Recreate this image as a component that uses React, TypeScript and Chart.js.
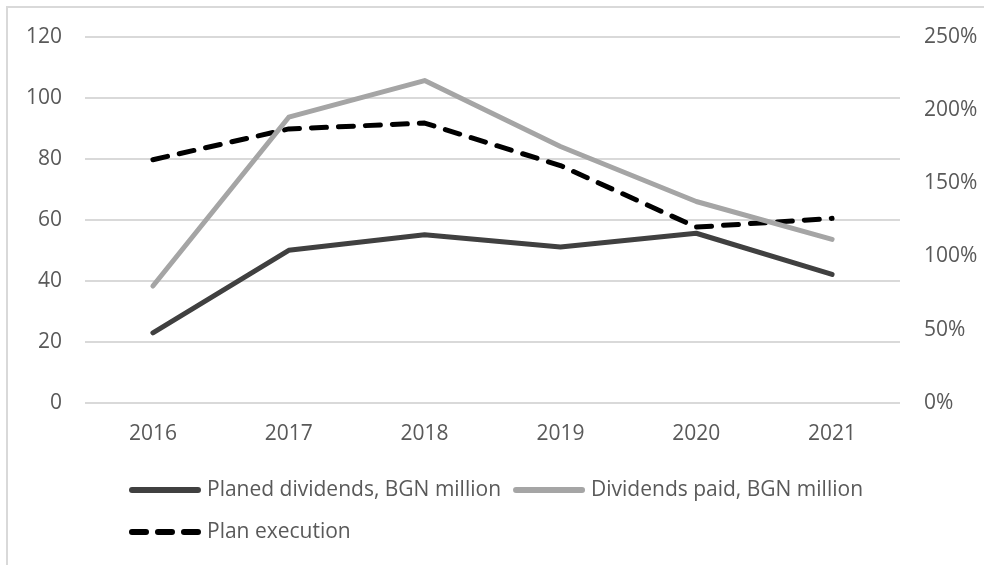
import React, { useEffect, useRef } from "react";
import { Chart, registerables } from "chart.js";

Chart.register(...registerables);

const categories = ["2016", "2017", "2018", "2019", "2020", "2021"];
const plannedDividends = [23.0, 50.0, 55.1, 51.1, 55.6, 42.1];
const dividendsPaid = [38.3, 93.6, 105.6, 84.0, 66.0, 53.6];
const planExecution = [166, 187, 191, 162, 120, 126];

const leftMax = 120;
const leftStep = 20;
const rightMax = 250;
const rightStep = 50;

const seriesLabels = [
  "Planed dividends, BGN million",
  "Dividends paid, BGN million",
  "Plan execution",
];

const FONT_FAMILY = '"Open Sans", sans-serif';
const FONT_SIZE = 21;
const TEXT_COLOR = "#595959";

const framePlugin = {
  id: "frame",
  beforeDraw(chart: any) {
    const ctx = chart.ctx;
    ctx.save();
    ctx.strokeStyle = "#d9d9d9";
    ctx.lineWidth = 2;
    ctx.beginPath();
    ctx.moveTo(7, chart.height);
    ctx.lineTo(7, 7);
    ctx.lineTo(chart.width, 7);
    ctx.stroke();
    ctx.restore();
  },
};

const legendPlugin = {
  id: "customLegend",
  afterDraw(chart: any) {
    const ctx = chart.ctx;
    const datasets = chart.data.datasets;
    const rows = [[0, 1], [2]];
    const sampleW = 72;
    const textGap = 6;
    const itemGap = 12;
    ctx.save();
    ctx.font = `${FONT_SIZE}px ${FONT_FAMILY}`;
    ctx.textBaseline = "middle";
    ctx.textAlign = "left";
    const itemWidth = (i: number) =>
      sampleW + textGap + ctx.measureText(datasets[i].label).width;
    const row1W =
      rows[0].reduce((s, i) => s + itemWidth(i), 0) + itemGap * (rows[0].length - 1);
    const center = chart.width / 2 + 4;
    const startX = center - row1W / 2;
    const baseY = chart.chartArea.bottom;
    const rowYs = [baseY + 87, baseY + 129];
    rows.forEach((row, r) => {
      let x = startX;
      const y = rowYs[r];
      row.forEach((i) => {
        const ds = datasets[i];
        const lw = 6;
        ctx.save();
        ctx.strokeStyle = ds.borderColor;
        ctx.lineWidth = lw;
        ctx.lineCap = "round";
        ctx.setLineDash(ds.borderDash && ds.borderDash.length ? [14, 12] : []);
        ctx.beginPath();
        ctx.moveTo(x + lw / 2, y);
        ctx.lineTo(x + sampleW - lw / 2, y);
        ctx.stroke();
        ctx.restore();
        ctx.fillStyle = TEXT_COLOR;
        ctx.fillText(ds.label, x + sampleW + textGap, y);
        x += itemWidth(i) + itemGap;
      });
    });
    ctx.restore();
  },
};

export default function App() {
  const canvasRef = useRef<HTMLCanvasElement | null>(null);

  useEffect(() => {
    document.body.style.margin = "0";
    const canvas = canvasRef.current;
    if (!canvas) return;
    const chart = new Chart(canvas, {
      type: "line",
      data: {
        labels: categories,
        datasets: [
          {
            label: seriesLabels[0],
            data: plannedDividends,
            borderColor: "#404040",
            backgroundColor: "#404040",
            borderWidth: 5,
            pointRadius: 0,
            tension: 0,
            borderCapStyle: "round",
            borderJoinStyle: "round",
            yAxisID: "y",
          },
          {
            label: seriesLabels[1],
            data: dividendsPaid,
            borderColor: "#a5a5a5",
            backgroundColor: "#a5a5a5",
            borderWidth: 5,
            pointRadius: 0,
            tension: 0,
            borderCapStyle: "round",
            borderJoinStyle: "round",
            yAxisID: "y",
          },
          {
            label: seriesLabels[2],
            data: planExecution,
            borderColor: "#000000",
            backgroundColor: "#000000",
            borderWidth: 5,
            borderDash: [15, 12],
            pointRadius: 0,
            tension: 0,
            borderCapStyle: "round",
            borderJoinStyle: "round",
            yAxisID: "y1",
          },
        ],
      },
      options: {
        responsive: false,
        animation: false,
        layout: {
          padding: { top: 36.5, bottom: 118, left: 0, right: 0 },
        },
        plugins: {
          legend: { display: false },
          tooltip: { enabled: false },
        },
        scales: {
          x: {
            offset: true,
            grid: { display: false, drawTicks: false },
            border: { display: false },
            ticks: {
              color: TEXT_COLOR,
              font: { family: FONT_FAMILY, size: FONT_SIZE },
              padding: 18,
              maxRotation: 0,
            },
            afterFit(scale: any) {
              scale.height = 44;
            },
          },
          y: {
            position: "left",
            min: 0,
            max: leftMax,
            ticks: {
              stepSize: leftStep,
              color: TEXT_COLOR,
              font: { family: FONT_FAMILY, size: FONT_SIZE },
              padding: 23,
            },
            grid: { color: "#d9d9d9", lineWidth: 2, drawTicks: false },
            border: { display: false },
            afterFit(scale: any) {
              scale.width = 85;
            },
          },
          y1: {
            position: "right",
            min: 0,
            max: rightMax,
            ticks: {
              stepSize: rightStep,
              color: TEXT_COLOR,
              font: { family: FONT_FAMILY, size: FONT_SIZE },
              padding: 24,
              callback: (v: any) => `${v}%`,
            },
            grid: { display: false, drawTicks: false },
            border: { display: false },
            afterFit(scale: any) {
              scale.width = 84;
            },
          },
        },
      },
      plugins: [framePlugin, legendPlugin],
    });
    return () => chart.destroy();
  }, []);

  return (
    <canvas
      ref={canvasRef}
      width={984}
      height={565}
      style={{ display: "block", width: 984, height: 565 }}
    />
  );
}
